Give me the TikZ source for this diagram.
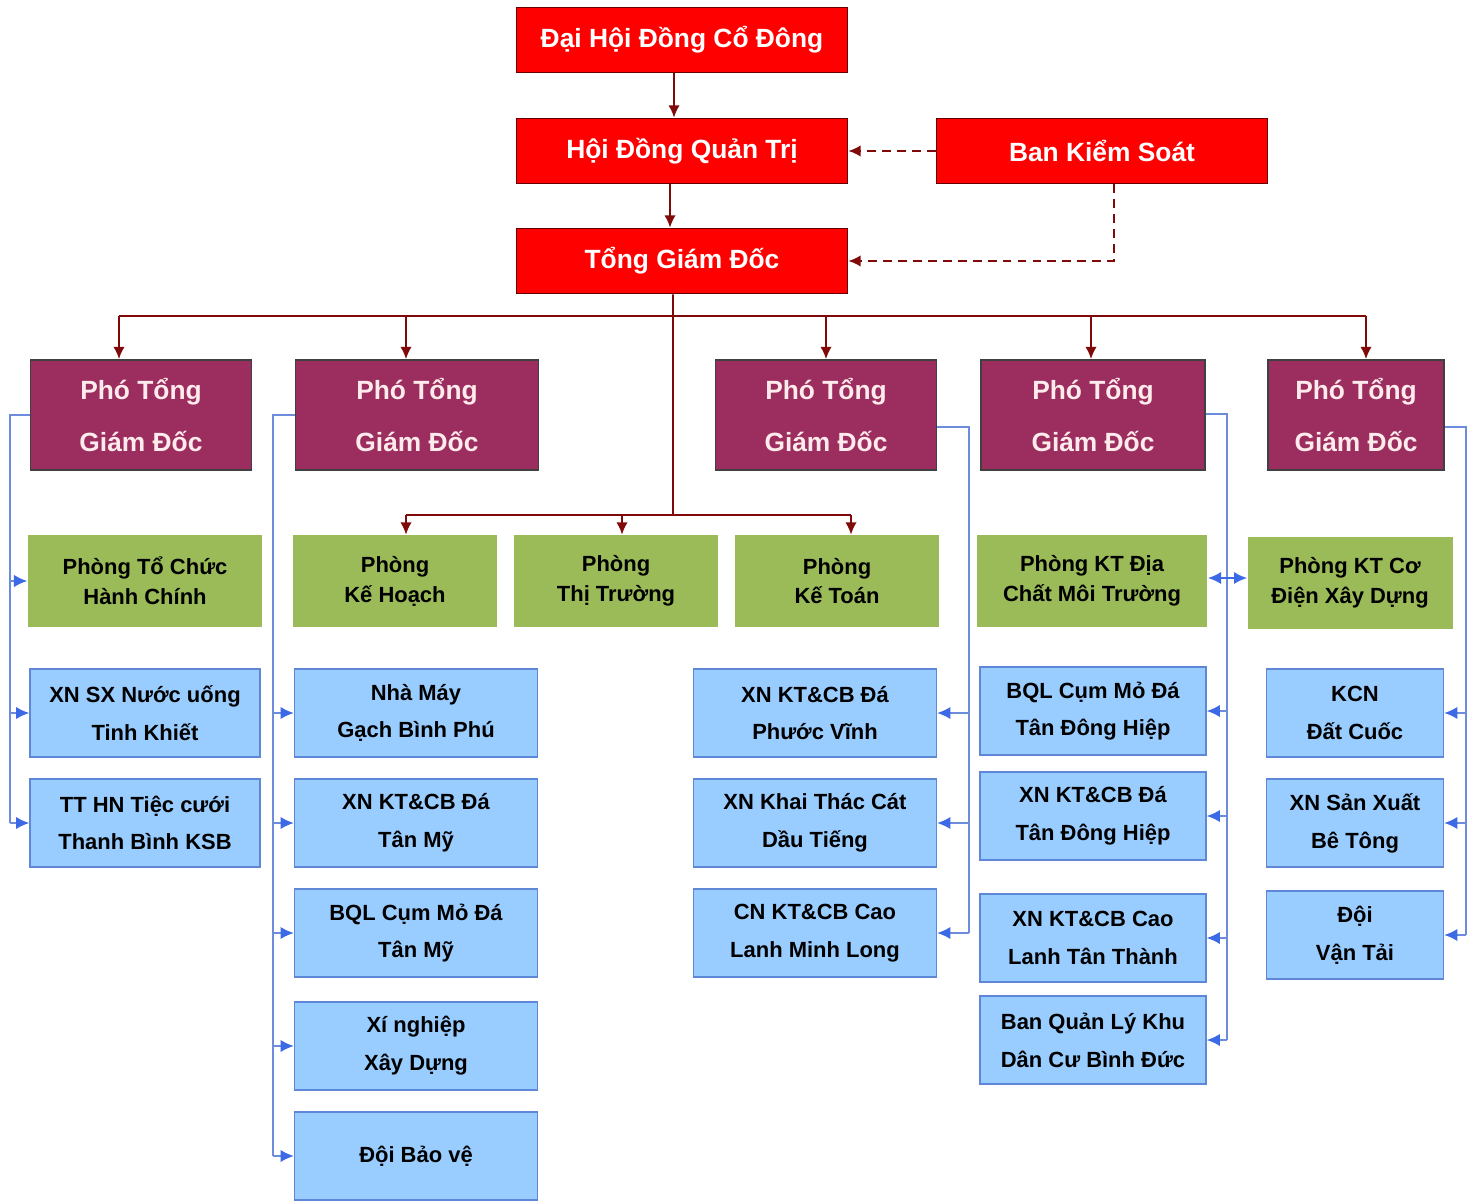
\documentclass[tikz,border=0pt]{standalone}
\usepackage{fontspec}
\setmainfont{Liberation Sans}
\usepackage{tikz}
\usetikzlibrary{arrows.meta}
\definecolor{boxred}{RGB}{255,0,0}
\definecolor{boxpurple}{RGB}{155,45,95}
\definecolor{boxgreen}{RGB}{155,187,89}
\definecolor{boxblue}{RGB}{153,204,255}
\definecolor{edgeblue}{RGB}{95,135,215}
\definecolor{linkred}{RGB}{128,10,10}
\definecolor{linkblue}{RGB}{60,105,230}
\definecolor{linklight}{RGB}{110,140,220}

\begin{document}
\begin{tikzpicture}[x=0.02cm, y=-0.02cm, every node/.style = {shape=rectangle, inner sep=0pt, align=center},
			redbox/.style = {draw=black!60!red, line width=1pt, fill=boxred, text=white, minimum width=6.62cm, minimum height=1.3cm, font=\bfseries\fontsize{15}{18}\selectfont},
			pho/.style = {draw=black!75, line width=1pt, fill=boxpurple, text=white!92!red, minimum height=2.2cm, font=\bfseries\fontsize{15}{29.5}\selectfont},
			phong/.style = {fill=boxgreen, minimum height=1.84cm, font=\bfseries\fontsize{12.5}{17}\selectfont},
			don/.style = {draw=edgeblue, line width=0.9pt, fill=boxblue, minimum height=1.75cm, font=\bfseries\fontsize{12.5}{21.5}\selectfont},
			tree/.style = {draw=linkred, line width=1.1pt},
			dashln/.style = {draw=linkred, line width=1.1pt, dash pattern=on 5pt off 3.5pt},
			link/.style = {draw=linklight, line width=0.8pt},
			rtip/.style = {-{Latex[length=7pt,width=6.5pt]}},
			btip/.style = {-{Latex[length=7.5pt,width=7pt,color=linkblue]}}]
			\fill[white] (0,0) rectangle (1479,1202);
			\useasboundingbox (0,0) rectangle (1479,1202);

			\node[redbox] (DHDCD) at (682,40) {Đại Hội Đồng Cổ Đông};
			\node[redbox] (HDQT) at (682,151) {Hội Đồng Quản Trị};
			\node[redbox] (BKS) at (1102,151) {Ban Kiểm Soát};
			\node[redbox] (TGD) at (682,261) {Tổng Giám Đốc};

			\node[pho, minimum width=4.42cm] (P1) at (141,415) {Phó Tổng\\Giám Đốc};
			\node[pho, minimum width=4.86cm] (P2) at (417,415) {Phó Tổng\\Giám Đốc};
			\node[pho, minimum width=4.42cm] (P3) at (826,415) {Phó Tổng\\Giám Đốc};
			\node[pho, minimum width=4.48cm] (P4) at (1093,415) {Phó Tổng\\Giám Đốc};
			\node[pho, minimum width=3.52cm] (P5) at (1356,415) {Phó Tổng\\Giám Đốc};

			\node[phong, minimum width=4.7cm] (G1) at (145,581) {Phòng Tổ Chức\\Hành Chính};
			\node[phong, minimum width=4.08cm] (G2) at (395,581) {Phòng\\Kế Hoạch};
			\node[phong, minimum width=4.08cm] (G3) at (616,581) {Phòng\\Thị Trường};
			\node[phong, minimum width=4.08cm] (G4) at (837,581) {Phòng\\Kế Toán};
			\node[phong, minimum width=4.62cm] (G5) at (1092,581) {Phòng KT Địa\\Chất Môi Trường};
			\node[phong, minimum width=4.1cm] (G6) at (1350,583) {Phòng KT Cơ\\Điện Xây Dựng};

			\node[don, minimum width=4.6cm] (B11) at (145,713) {XN SX Nước uống\\Tinh Khiết};
			\node[don, minimum width=4.6cm] (B12) at (145,823) {TT HN Tiệc cưới\\Thanh Bình KSB};

			\node[don, minimum width=4.86cm] (B21) at (416,713) {Nhà Máy\\Gạch Bình Phú};
			\node[don, minimum width=4.86cm] (B22) at (416,823) {XN KT\&CB Đá\\Tân Mỹ};
			\node[don, minimum width=4.86cm] (B23) at (416,933) {BQL Cụm Mỏ Đá\\Tân Mỹ};
			\node[don, minimum width=4.86cm] (B24) at (416,1046) {Xí nghiệp\\Xây Dựng};
			\node[don, minimum width=4.86cm] (B25) at (416,1156) {Đội Bảo vệ};

			\node[don, minimum width=4.86cm] (B31) at (815,713) {XN KT\&CB Đá\\Phước Vĩnh};
			\node[don, minimum width=4.86cm] (B32) at (815,823) {XN Khai Thác Cát\\Dầu Tiếng};
			\node[don, minimum width=4.86cm] (B33) at (815,933) {CN KT\&CB Cao\\Lanh Minh Long};

			\node[don, minimum width=4.52cm] (B41) at (1093,711) {BQL Cụm Mỏ Đá\\Tân Đông Hiệp};
			\node[don, minimum width=4.52cm] (B42) at (1093,816) {XN KT\&CB Đá\\Tân Đông Hiệp};
			\node[don, minimum width=4.52cm] (B43) at (1093,938) {XN KT\&CB Cao\\Lanh Tân Thành};
			\node[don, minimum width=4.52cm] (B44) at (1093,1040) {Ban Quản Lý Khu\\Dân Cư Bình Đức};

			\node[don, minimum width=3.54cm] (B51) at (1355,713) {KCN\\Đất Cuốc};
			\node[don, minimum width=3.54cm] (B52) at (1355,823) {XN Sản Xuất\\Bê Tông};
			\node[don, minimum width=3.54cm] (B53) at (1355,935) {Đội\\Vận Tải};

			\draw[tree, rtip] ([xshift=-0.16cm]DHDCD.south) -- ([xshift=-0.16cm]HDQT.north);
			\draw[tree, rtip] ([xshift=-0.24cm]HDQT.south) -- ([xshift=-0.24cm]TGD.north);
			\draw[dashln, rtip] (BKS.west) -- (HDQT.east);
			\draw[dashln, rtip] ([xshift=0.24cm]BKS.south) |- (TGD.east);

			\coordinate (busL) at (119,316);
			\coordinate (busR) at (1366,316);
			\coordinate (midbus) at (673,515);
			\draw[tree] ([xshift=-0.18cm]TGD.south) -- (midbus);
			\draw[tree] (busL) -- (busR);
			\foreach \n/\x in {P1/119, P2/406, P3/826, P4/1091, P5/1366} {
				\coordinate (b\n) at (\x,316);
				\draw[tree, rtip] (b\n) -- (b\n |- \n.north);
			}
			\foreach \n/\x in {G2/406, G3/622, G4/851} {
				\coordinate (m\n) at (\x,515);
				\draw[tree, rtip] (m\n) -- (m\n |- \n.north);
			}
			\draw[tree] (mG2) -- (mG4);

			\coordinate (s1) at (10,415);
			\draw[link] (P1.west) -- (s1) -- (s1 |- B12.west);
			\foreach \n in {G1, B11, B12}
				\draw[link, btip] (s1 |- \n.west) -- (\n.west);

			\coordinate (s2) at (273,415);
			\draw[link] (P2.west) -- (s2) -- (s2 |- B25.west);
			\foreach \n in {B21, B22, B23, B24, B25}
				\draw[link, btip] (s2 |- \n.west) -- (\n.west);

			\coordinate (s3) at (969,427);
			\draw[link] (P3.east |- s3) -- (s3) -- (s3 |- B33.east);
			\foreach \n in {B31, B32, B33}
				\draw[link, btip] (s3 |- \n.east) -- (\n.east);

			\coordinate (s4) at (1227,414);
			\draw[link] (P4.east |- s4) -- (s4) -- (s4 |- B44.east);
			\foreach \n in {B41, B42, B43, B44}
				\draw[link, btip] (s4 |- \n.east) -- (\n.east);

			\coordinate (s5) at (1466,427);
			\draw[link] (P5.east |- s5) -- (s5) -- (s5 |- B53.east);
			\foreach \n in {B51, B52, B53}
				\draw[link, btip] (s5 |- \n.east) -- (\n.east);

			\draw[link, line width=1.2pt, draw=linkblue, {Latex[length=7.5pt,width=7pt]}-{Latex[length=7.5pt,width=7pt]}] ([yshift=0.06cm]G5.east) -- ([yshift=0.06cm]G5.east -| G6.west);
\end{tikzpicture}
\end{document}
